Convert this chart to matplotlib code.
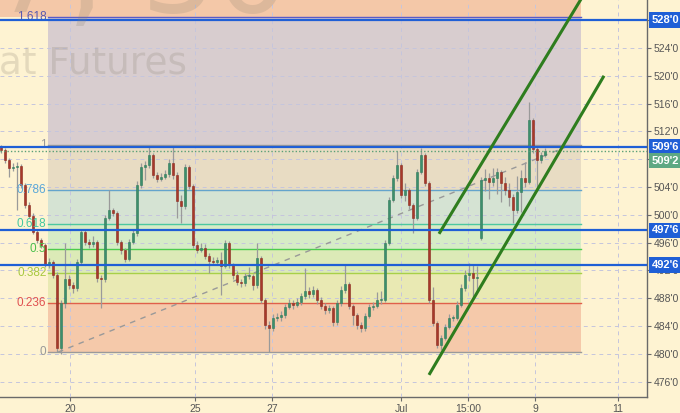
import numpy as np
import matplotlib
matplotlib.use("Agg")
from matplotlib import pyplot as plt
from matplotlib import transforms

# candle data, one bar every ~4 px of the original chart
closes = [509.35, 507.9, 506.8, 506.9, 507.0, 504.3, 501.4, 499.9, 497.6, 496.4,
          495.7, 492.9, 493.2, 491.4, 480.9, 487.3, 490.7, 489.9, 489.5, 493.2,
          497.5, 496.1, 495.8, 496.1, 490.9, 490.7, 499.6, 500.7, 500.3, 496.1,
          495.0, 493.7, 496.1, 497.4, 504.3, 506.9, 507.2, 508.6, 505.8, 505.2,
          505.5, 505.9, 507.5, 505.8, 502.0, 501.2, 506.9, 504.2, 495.7, 495.0,
          495.3, 494.1, 493.4, 493.2, 493.5, 492.7, 496.0, 492.8, 491.4, 490.4,
          490.2, 491.2, 491.2, 489.9, 493.8, 487.8, 484.2, 483.7, 485.2, 485.3,
          485.6, 486.8, 487.3, 487.1, 487.5, 488.3, 489.1, 488.6, 489.2, 487.8,
          486.9, 486.3, 486.6, 484.6, 487.3, 489.2, 490.1, 486.9, 485.6, 484.2,
          483.7, 485.5, 486.8, 486.9, 487.8, 487.8, 496.0, 502.2, 505.3, 507.2,
          502.9, 503.6, 501.4, 499.6, 506.2, 508.6, 504.6, 487.8, 484.5, 481.3,
          482.3, 483.9, 485.2, 485.2, 487.1, 489.5, 491.4, 491.7, 490.9, 491.1,
          505.0, 505.3, 504.7, 505.3, 506.2, 504.6, 503.6, 502.6, 500.7, 503.3,
          505.3, 504.7, 513.7, 509.4, 507.9, 508.6, 509.25]
highs = [510.1, 509.6, 508.2, 507.4, 507.6, 507.3, 504.6, 501.8, 500.2, 497.9,
         496.6, 496.0, 493.8, 493.5, 491.8, 487.8, 496.0, 491.3, 490.4, 493.6,
         498.0, 497.9, 496.5, 496.9, 496.4, 491.3, 500.0, 503.6, 501.0, 500.6,
         496.4, 495.3, 496.5, 497.9, 504.8, 507.4, 507.8, 510.1, 508.9, 506.2,
         506.0, 506.4, 508.0, 510.0, 506.1, 502.8, 507.3, 507.2, 504.5, 496.3,
         495.9, 495.8, 494.5, 493.9, 494.0, 494.6, 496.4, 496.3, 493.1, 491.9,
         490.8, 491.7, 492.5, 491.5, 496.0, 494.1, 488.1, 484.8, 485.7, 485.9,
         486.1, 487.2, 487.9, 487.7, 488.0, 488.8, 492.4, 489.6, 489.8, 489.5,
         488.2, 487.3, 487.1, 486.9, 487.7, 489.7, 492.8, 490.4, 487.2, 485.9,
         484.6, 485.9, 487.2, 487.4, 488.9, 489.0, 496.4, 502.6, 505.8, 509.2,
         507.5, 504.6, 503.9, 501.7, 506.6, 509.6, 508.9, 504.9, 489.6, 484.8,
         482.7, 484.3, 485.7, 485.6, 487.6, 490.0, 492.0, 493.1, 492.8, 492.6,
         505.5, 506.6, 506.0, 506.8, 506.8, 506.5, 505.5, 504.6, 503.0, 505.6,
         506.4, 507.6, 516.3, 514.0, 509.8, 509.0, 509.6]
lows = [508.9, 507.5, 505.5, 506.3, 500.7, 503.8, 501.0, 499.5, 497.2, 496.0,
        495.2, 492.5, 492.4, 490.9, 480.3, 480.0, 486.6, 489.4, 488.8, 489.0,
        492.9, 495.6, 495.3, 495.4, 490.4, 486.6, 490.3, 499.2, 499.8, 495.7,
        494.4, 493.2, 493.3, 495.8, 497.0, 503.9, 505.0, 506.8, 505.3, 504.7,
        504.9, 505.1, 505.5, 505.2, 499.5, 498.8, 500.8, 503.7, 495.2, 494.5,
        494.6, 493.6, 491.6, 492.8, 492.9, 488.5, 492.3, 492.3, 490.8, 489.9,
        489.6, 489.8, 490.7, 489.2, 489.5, 487.3, 483.6, 480.3, 483.3, 484.7,
        484.8, 485.2, 486.4, 486.5, 486.8, 487.0, 487.9, 488.0, 488.2, 487.2,
        486.4, 485.8, 485.9, 484.0, 484.2, 486.9, 488.8, 486.4, 484.2, 483.6,
        483.1, 483.3, 485.1, 486.3, 486.6, 487.2, 487.5, 495.7, 501.9, 504.9,
        502.4, 502.0, 500.8, 497.4, 499.2, 505.9, 504.1, 487.3, 484.0, 480.9,
        480.6, 482.0, 483.6, 484.8, 484.9, 486.8, 489.0, 490.5, 488.2, 489.0,
        496.4, 503.5, 502.3, 504.2, 503.0, 501.8, 502.8, 501.2, 498.8, 500.3,
        500.4, 504.0, 504.4, 508.9, 503.6, 507.5, 508.3]
first_open = 509.8
gap_bar = 120
gap_open = 496.7

# fibonacci retracement
fib_low = 480.25
fib_high = 510.0
fib_start_bar = 14.25
fib_end_bar = 142.25
fib_box = (11.75, 145.0)
fib_levels = [0, 0.236, 0.382, 0.5, 0.618, 0.786, 1, 1.618]
fib_labels = ["0", "0.236", "0.382", "0.5", "0.618", "0.786", "1", "1.618"]
fib_line_colors = ["#9a9a9a", "#e0604a", "#a8d048", "#4ccc4c", "#4cc8a0", "#64a4cc", "#9a9a9a", "#5a5ac8"]
fib_text_colors = ["#999999", "#e05050", "#a8c840", "#4cc04c", "#44c8a0", "#5aa8d8", "#999999", "#5a5ab0"]
fib_zone_colors = ["#f5c9aa", "#e9e9b3", "#dceab7", "#d6ecc6", "#d5e3d3", "#e8dcc3", "#d8cdcf", "#f4c8a8"]

# horizontal levels and channel
blue_levels = [528.0, 509.75, 497.75, 492.75]
last_price = 509.25
channel = [((109.5, 497.27), (145.5, 531.5)), ((107.0, 476.98), (150.75, 520.0))]

xtick_pos = [17.25, 48.5, 67.75, 100, 116.75, 133.5, 154.25]
xtick_labels = ["20", "25", "27", "Jul", "15:00", "9", "11"]
ytick_vals = list(range(476, 529, 4))

FONT = ["Liberation Sans", "DejaVu Sans"]


def fmt_price(p):
    whole = int(np.floor(p + 1e-9))
    eighths = int(round((p - whole) * 8))
    return "{}'{}".format(whole, eighths)


bg = "#fef3d2"
fig = plt.figure(figsize=(6.8, 4.13), dpi=100, facecolor=bg)
ax = fig.add_axes([0, 16 / 413, 647 / 680, 397 / 413], facecolor=bg)
ax.set_xlim(-0.25, 161.5)
ax.set_ylim(473.8, 530.9)

# watermark
fig.text(187 / 680, 1 - 74 / 413, "Wheat Futures", fontsize=27, color="#8a8070",
         alpha=0.22, ha="right", va="baseline", family="DejaVu Sans")
fig.text(290 / 680, 1 - 12 / 413, "ZWU2017, 30", fontsize=84, color="#8a8070",
         alpha=0.22, ha="right", va="baseline", family="DejaVu Sans")

# fib zones
rng = fib_high - fib_low
prices = [fib_low + l * rng for l in fib_levels]
for k in range(len(prices) - 1):
    ax.fill_between(fib_box, prices[k], prices[k + 1], color=fib_zone_colors[k], lw=0, zorder=1)
ax.fill_between([-0.25, fib_box[1]], prices[-1], 531, color=fib_zone_colors[-1], lw=0, zorder=1)

ax.grid(True, color="#c5c5dd", lw=0.7, ls=(0, (4, 4)), zorder=2)
ax.set_axisbelow(False)

for k, p in enumerate(prices):
    ax.plot(fib_box, [p, p], color=fib_line_colors[k], lw=1.0, zorder=3)
    ax.text(fib_box[0] - 0.4, p, fib_labels[k], color=fib_text_colors[k], fontsize=8.5,
            ha="right", va="center", zorder=6, family=FONT)
ax.plot([fib_start_bar, fib_end_bar], [fib_low, fib_high], color="#999999", lw=1.0,
        ls=(0, (4, 4)), zorder=3)

# candles
opens = [first_open] + closes[:-1]
opens[gap_bar] = gap_open
x = np.arange(len(closes))
o = np.array(opens)
c = np.array(closes)
h = np.maximum(np.array(highs), np.maximum(o, c))
l = np.minimum(np.array(lows), np.minimum(o, c))
up = c >= o
ax.vlines(x, l, h, color="#9a9a9a", lw=0.9, zorder=4)
body = np.maximum(np.abs(c - o), 0.15)
ax.bar(x[up], body[up], bottom=np.minimum(o, c)[up], width=0.62, color="#3c8f6c",
       edgecolor="#2f7a5a", lw=0.4, zorder=5)
ax.bar(x[~up], body[~up], bottom=np.minimum(o, c)[~up], width=0.62, color="#a8382a",
       edgecolor="#8a2a1e", lw=0.4, zorder=5)

# blue levels and last price
for p in blue_levels:
    ax.axhline(p, color="#1f5fd6", lw=1.6, zorder=6)
ax.axhline(last_price, color="#5aa078", lw=1.0, ls=(0, (1, 1.5)), zorder=6)

# trend channel
for (x0, y0), (x1, y1) in channel:
    ax.plot([x0, x1], [y0, y1], color="#2e7d1e", lw=2.2, solid_capstyle="butt", zorder=7)

# axes styling
for s in ["top", "left"]:
    ax.spines[s].set_visible(False)
for s in ["right", "bottom"]:
    ax.spines[s].set_color("#6a6a6a")
    ax.spines[s].set_linewidth(1.0)
ax.yaxis.tick_right()
ax.set_yticks(ytick_vals)
ax.set_yticklabels([fmt_price(v) for v in ytick_vals])
ax.set_xticks(xtick_pos)
ax.set_xticklabels(xtick_labels)
ax.tick_params(axis="both", colors="#6a6a6a", labelcolor="#555555", labelsize=7.5,
               length=3, width=0.8, pad=2)
for t in ax.get_xticklabels() + ax.get_yticklabels():
    t.set_family(FONT)

# price labels on the axis
trans = transforms.blended_transform_factory(ax.transAxes, ax.transData)
for p in blue_levels:
    ax.text(1.007, p, fmt_price(p), transform=trans, fontsize=8, color="white",
            ha="left", va="center", zorder=10, clip_on=False, fontweight="bold", family=FONT,
            bbox=dict(boxstyle="square,pad=0.25", fc="#1f5fd6", ec="none"))
shifted = transforms.offset_copy(trans, fig=fig, y=-10, units="dots")
ax.text(1.007, last_price, fmt_price(last_price), transform=shifted, fontsize=8,
        color="white", ha="left", va="center", zorder=10, clip_on=False, fontweight="bold",
        family=FONT, bbox=dict(boxstyle="square,pad=0.25", fc="#5ea883", ec="none"))

fig.savefig("out.png", dpi=100, facecolor=bg)
